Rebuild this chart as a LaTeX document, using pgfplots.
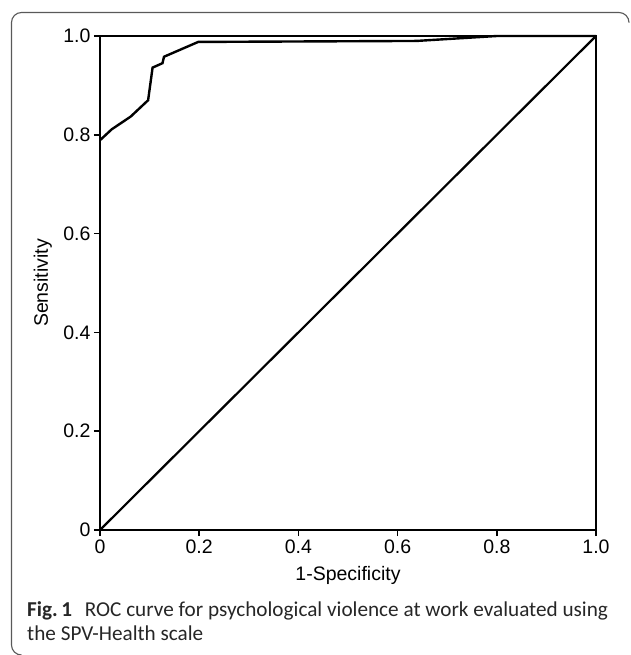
\documentclass[border=0pt]{standalone}
\usepackage{fontspec}
\setmainfont{Liberation Sans}
\newfontfamily\capfont{Carlito}
\usepackage{pgfplots}
\pgfplotsset{compat=1.18}

\begin{document}
\begin{tikzpicture}
\useasboundingbox (0pt,0pt) rectangle (630pt,-655pt);

% frame of the figure
\draw[black!65, line width=1.1pt, rounded corners=10pt]
  (20pt,-655pt) -- (11.5pt,-655pt) -- (11.5pt,-12.5pt) -- (629pt,-12.5pt) -- (629pt,-22pt);

\begin{axis}[
  at={(100pt,-530pt)}, anchor=south west,
  scale only axis,
  width=496pt, height=494pt,
  xmin=0, xmax=1, ymin=0, ymax=1,
  xtick={0,0.2,0.4,0.6,0.8,1},
  xticklabels={0,0.2,0.4,0.6,0.8,1.0},
  ytick={0,0.2,0.4,0.6,0.8,1},
  yticklabels={0,0.2,0.4,0.6,0.8,1.0},
  xtick pos=left, ytick pos=left,
  tick align=outside,
  major tick length=6pt,
  every tick/.style={black, line width=1.6pt},
  axis line style={black, line width=1.8pt},
  tick label style={font=\fontsize{19.5}{22}\selectfont},
  /pgf/number format/assume math mode=true,
  label style={font=\fontsize{19.5}{22}\selectfont},
  xlabel={1-Specificity},
  ylabel={Sensitivity},
  xlabel style={at={(axis description cs:0.5,-0.103)}, anchor=base},
  ylabel style={at={(axis description cs:-0.115,0.5)}, anchor=center},
  clip=false,
]
% ROC curve
\addplot[black, line width=2.4pt, line join=miter] coordinates {
  (0,0.789) (0.0235,0.811) (0.062,0.837) (0.097,0.870) (0.106,0.936)
  (0.126,0.945) (0.129,0.958) (0.198,0.988) (0.638,0.990) (0.80,1.0) (1,1)
};
% reference diagonal
\addplot[black, line width=2.2pt] coordinates {(0,0) (1,1)};
\end{axis}

% caption
\node[anchor=base west, inner sep=0pt, text=black!85, font=\capfont\fontsize{21.2}{25}\selectfont]
  at (27pt,-616.5pt) {\textbf{Fig.\,1}\hspace{0.6em}ROC curve for psychological violence at work evaluated using};
\node[anchor=base west, inner sep=0pt, text=black!85, font=\capfont\fontsize{21.2}{25}\selectfont]
  at (27pt,-640.5pt) {the SPV-Health scale};
\end{tikzpicture}
\end{document}
